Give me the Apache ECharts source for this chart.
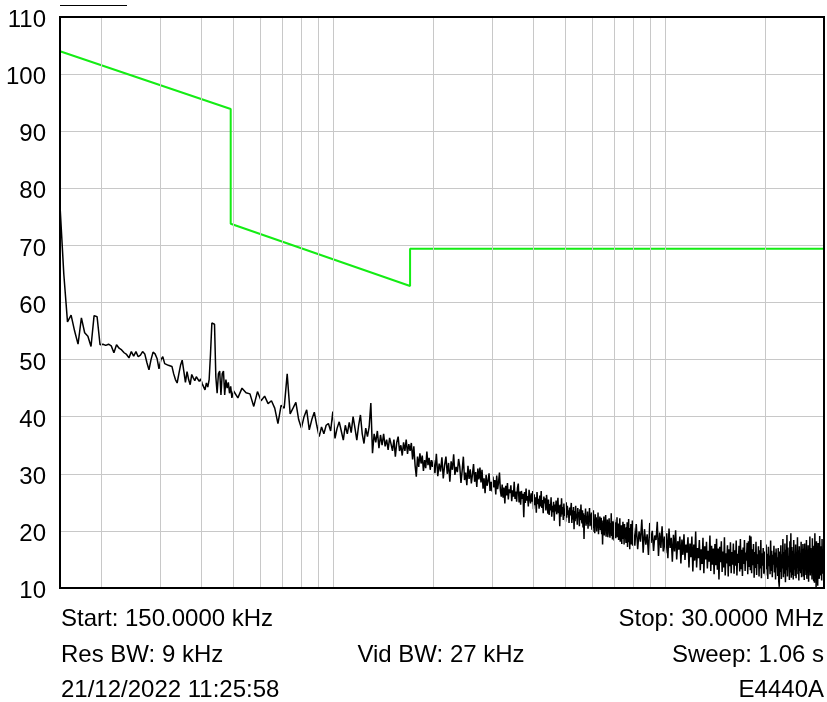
<!DOCTYPE html>
<html>
<head>
<meta charset="utf-8">
<script src="https://cdn.jsdelivr.net/npm/echarts@6/dist/echarts.min.js"></script>
<style>
html,body{margin:0;padding:0;background:#fff;}
#chart{width:827px;height:702px;}
</style>
</head>
<body>
<div id="chart"></div>
<script>
// ---- sweep segments (start kHz, step kHz, measured levels dBuV) ----
const seg1StartKHz = 150, seg1StepKHz = 4;
const seg1Levels = [77.0,65.0,56.6,57.8,55.0,52.7,57.3,54.7,54.1,52.3,
57.7,57.5,52.6,52.7,52.5,52.7,52.4,51.2,52.6,52.0,
51.7,51.2,50.9,50.3,51.4,50.6,51.4,50.5,50.8,51.4,
51.0,49.5,48.2,50.0,51.3,51.0,50.2,48.4,50.0,50.5,
49.3,49.6,49.0,49.2,48.8,47.5,46.5,45.9,47.5,49.0,
49.9,48.0,46.0,47.9,46.5,45.6,47.4,46.8,46.3,47.0,
46.9,46.2,46.6,
45.8,45.5,44.7,45.9,45.2,46.5,51.0,56.4,56.5,56.2,
47.0,44.1,47.5,48.0,43.8,47.5,48.0,43.8,46.5,45.0,
46.0,44.1,45.3,43.3];

const seg2StartKHz = 500, seg2StepKHz = 15;
const seg2Levels = [44.5,43.3,45.0,44.2,44.0,41.8,44.4,42.8,43.6,42.3,
42.8,41.5,38.8,42.0,41.5,47.5,40.5,41.5,42.5,39.5,
38.0,40.0,41.2,37.7,39.5,40.8,38.5,36.5,38.2,37.0,
38.5,38.8,37.5,40.9,36.2,38.0,39.1,37.5,35.9,38.5,
37.0,39.0,37.2,40.0,38.0,35.9,38.5,40.3,37.0,35.3,
38.0,36.5,38.2,42.4,33.6,37.0,35.5,37.5,34.5,36.8,
35.0,37.0,34.8,36.0,34.2,36.3,35.2,34.0,36.0,33.0,
35.5,36.5,34.0,35.0,33.2,35.5,34.0,36.0,33.5,35.2,
34.0,35.4,32.5,34.8,31.5,29.5,33.0,31.2,33.6,31.8,
33.2,30.5,32.4,31.0,33.9,31.5,32.8,30.7,32.4,31.2];

const seg3StartKHz = 2000, seg3StepKHz = 20;
const seg3Levels = [32.4,30.1,33.5,29.6,31.8,30.4,32.9,29.2,31.5,33.0,30.0,31.9,28.6,32.2,30.7,33.4,29.8,31.2,30.3,32.6,
31.2,28.4,30.6,33.0,28.9,30.2,28.0,31.4,29.1,30.8,28.3,29.9,31.7,28.6,30.3,27.7,30.9,29.0,31.1,28.5,
30.7,27.4,29.2,26.6,29.8,27.9,28.8,30.1,27.0,28.6,26.9,29.5,27.6,28.9,26.4,29.7,27.3,28.5,30.2,27.1,
26.0,28.1,25.8,27.6,24.8,27.9,26.2,28.4,25.5,27.3,26.6,28.0,25.2,27.1,26.0,28.6,25.6,26.9,25.1,27.5,
28.3,25.0,26.9,24.6,27.0,25.6,26.5,22.4,26.8,24.9,27.4,25.3,26.1,24.3,27.2,25.7,24.8,26.6,25.1,27.0,
23.8,26.4,24.5,25.9,23.2,26.8,24.7,25.6,23.9,26.2,24.3,27.0,24.0,25.4,23.1,26.0,24.8,25.7,23.6,26.3,
24.9,23.0,25.5,22.8,24.7,23.6,25.9,22.5,24.4,23.3,25.1,21.8,24.6,23.4,25.3,22.9,24.0,25.8,23.1,24.5,
20.8,24.6,22.5,25.7,22.9,24.2,21.9,24.8,22.6,23.9,21.6,25.0,22.3,24.4,22.8,23.6,21.4,24.1,22.7,23.8,
24.9,21.4,23.6,22.0,24.2,20.3,23.5,21.7,24.4,22.2,23.0,21.1,24.0,22.4,23.3,20.8,23.8,21.9,24.6,22.1,
21.3,23.6,20.6,23.1,18.6,22.8,21.5,23.9,20.9,22.6,21.2,23.4,20.4,22.3,21.7,24.0,20.8,22.9,21.0,23.2,
20.2,22.7,19.8,23.6,20.5,22.1,19.6,22.9,20.8,22.4,19.9,21.8,20.6,23.2,19.4,22.0,20.7,22.5,20.1,21.6,
22.3,19.4,21.8,17.6,21.3,20.0,22.5,19.2,21.6,20.3,22.8,19.0,21.1,19.8,22.0,18.9,21.5,20.2,22.2,19.5,
18.8,21.4,19.6,23.1,19.1,20.9,18.5,21.7,19.9,21.2,18.3,22.0,19.4,20.6,18.7,21.5,19.7,22.4,18.9,20.8,
21.3,18.4,20.6,19.0,22.2,18.1,20.4,18.9,21.0,17.7,20.8,19.3,21.6,18.6,20.1,17.6,21.2,18.8,20.5,19.1,
17.9,20.7,18.5,21.5,17.2,20.2,18.3,22.1,18.0,19.9,16.8,20.5,18.7,21.2,17.6,20.0,18.2,21.8,17.4,19.8];

const seg4StartKHz = 8000, seg4StepKHz = 80;
const seg4Levels = [20.6,17.4,21.2,16.8,19.9,18.1,22.0,16.2,20.3,17.6,19.4,15.8,21.4,17.9,20.0,16.5,19.2,18.4,21.6,15.6,19.7,17.0,20.8,16.4,19.0,
16.1,19.6,15.2,20.4,17.0,18.8,14.6,19.3,16.4,20.1,15.0,18.2,16.7,19.0,14.3,18.5,15.8,19.4,14.9,17.6,16.2,18.9,13.6,17.8,15.4,
19.0,12.9,17.6,14.8,19.9,13.6,17.0,15.2,18.4,13.1,16.8,14.2,18.8,12.6,17.3,15.0,18.1,13.4,16.5,14.6,19.2,13.0,17.4,14.1,16.9,
12.4,17.7,14.0,18.6,13.2,16.9,11.5,17.2,14.5,18.2,12.8,16.4,13.6,18.9,12.2,16.1,14.3,17.5,12.0,16.8,13.8,18.0,12.6,16.3,14.1,
17.8,12.5,16.6,13.9,18.3,12.2,16.0,14.4,17.4,12.9,18.6,13.3,16.7,12.1,17.1,14.2,18.4,13.0,16.2,14.8,17.9,12.4,18.2,13.7,19.2,
13.1,19.0,12.6,16.8,14.0,17.7,11.8,16.3,13.5,18.1,12.3,15.9,14.2,17.3,12.0,16.6,13.4,18.4,11.7,16.1,13.9,17.0,12.5,16.4,14.4,
12.2,17.6,13.3,16.0,11.6,17.2,13.8,15.7,12.4,18.3,13.0,16.5,11.9,15.8,14.1,17.4,12.7,16.2,11.5,16.9,13.6,15.4,12.1,17.0,11.2,
10.2,16.4,12.8,17.5,11.6,15.9,13.4,18.6,11.9,16.3,12.5,17.8,11.0,16.7,13.1,19.3,12.0,17.1,13.7,15.6,11.4,18.2,12.7,19.6,11.8,
17.2,12.3,16.5,11.5,18.4,13.2,16.0,12.1,17.6,11.7,15.8,13.5,18.9,12.4,16.6,11.3,17.3,13.0,15.5,12.6,18.1,11.9,16.8,13.3,17.7,
12.0,16.9,11.4,17.8,13.1,15.7,12.3,18.4,11.6,16.2,13.6,17.5,11.1,16.6,12.8,19.0,12.2,17.0,13.4,15.9,11.5,18.7,12.6,16.3,11.2,
17.4,10.9,19.6,12.4,16.8,10.1,18.2,12.9,15.6,10.4,17.9,13.2,16.1,11.6,19.1,12.2,17.3,13.8,15.2,11.3,18.6,14.0,12.5,16.7,13.0,
14.5];

// ---- limit line ----
const limitFreqMHz = [0.15, 0.49, 0.49, 1.7, 1.7, 30];
const limitLevel   = [104.0, 93.9, 73.8, 62.9, 69.4, 69.4];

// ---- grid lines (frequency, MHz) ----
const vGridFreqMHz = [0.2,0.3,0.4,0.5,0.6,0.7,0.8,0.9,1,2,3,4,5,6,7,8,9,10,20];
const yMin = 10, yMax = 110, yStep = 10;
const xMinMHz = 0.15, xMaxMHz = 30;

// ---- annotation texts ----
const footLeft  = ['Start: 150.0000 kHz', 'Res BW: 9 kHz', '21/12/2022 11:25:58'];
const footMid   = ['', 'Vid BW: 27 kHz', ''];
const footRight = ['Stop: 30.0000 MHz', 'Sweep: 1.06 s', 'E4440A'];

function segData(startKHz, stepKHz, levels) {
  return levels.map((v, i) => [(startKHz + i * stepKHz) / 1000, v]);
}
const traceData = []
  .concat(segData(seg1StartKHz, seg1StepKHz, seg1Levels))
  .concat(segData(seg2StartKHz, seg2StepKHz, seg2Levels))
  .concat(segData(seg3StartKHz, seg3StepKHz, seg3Levels))
  .concat(segData(seg4StartKHz, seg4StepKHz, seg4Levels));
const limitData = limitFreqMHz.map((f, i) => [f, limitLevel[i]]);

const FONT = '"Liberation Sans", Arial, sans-serif';
const FS = 24;
const rowY = [619, 655, 690];
const graphics = [
  { type: 'line', shape: { x1: 60, y1: 5.5, x2: 127, y2: 5.5 }, style: { stroke: '#000', lineWidth: 1 } }
];
rowY.forEach((y, i) => {
  graphics.push({ type: 'text', x: 61, y: y, style: { text: footLeft[i], font: FS + 'px ' + FONT, fill: '#000', textAlign: 'left', textVerticalAlign: 'middle' } });
  if (footMid[i]) graphics.push({ type: 'text', x: 441, y: y, style: { text: footMid[i], font: FS + 'px ' + FONT, fill: '#000', textAlign: 'center', textVerticalAlign: 'middle' } });
  graphics.push({ type: 'text', x: 824, y: y, style: { text: footRight[i], font: FS + 'px ' + FONT, fill: '#000', textAlign: 'right', textVerticalAlign: 'middle' } });
});

const chart = echarts.init(document.getElementById('chart'), null, { renderer: 'canvas' });
chart.setOption({
  animation: false,
  backgroundColor: '#fff',
  grid: { left: 60, top: 17, right: 3, bottom: 114, show: true, borderColor: '#000', borderWidth: 2, backgroundColor: 'transparent', z: 10 },
  xAxis: {
    type: 'log', logBase: 10, min: xMinMHz, max: xMaxMHz,
    axisLine: { show: false }, axisTick: { show: false }, axisLabel: { show: false }, splitLine: { show: false }
  },
  yAxis: {
    type: 'value', min: yMin, max: yMax, interval: yStep,
    axisLine: { show: false }, axisTick: { show: false },
    axisLabel: { color: '#000', fontSize: FS, fontFamily: FONT, margin: 14, verticalAlign: 'top', lineHeight: 7 },
    splitLine: { show: true, showMinLine: false, showMaxLine: false, lineStyle: { color: '#c8c8c8', width: 1 } }
  },
  graphic: graphics,
  series: [
    {
      type: 'line', data: [], silent: true, z: 1,
      markLine: {
        silent: true, symbol: ['none', 'none'], label: { show: false }, animation: false,
        lineStyle: { color: '#c8c8c8', width: 1, type: 'solid' },
        data: vGridFreqMHz.map(f => ({ xAxis: f }))
      }
    },
    {
      type: 'line', data: limitData, showSymbol: false, symbol: 'none', z: 4,
      lineStyle: { color: '#14ec14', width: 2 }
    },
    {
      type: 'line', data: traceData, showSymbol: false, symbol: 'none', z: 3,
      lineStyle: { color: '#000', width: 1.5 }
    }
  ]
});
</script>
</body>
</html>
